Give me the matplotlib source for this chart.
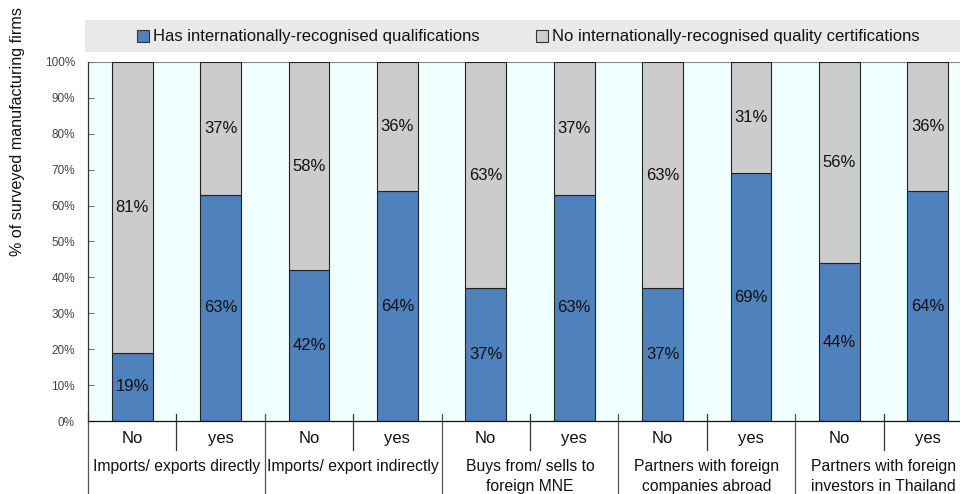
import matplotlib
matplotlib.use("Agg")
import matplotlib.pyplot as plt
from matplotlib.patches import Rectangle
from matplotlib.transforms import blended_transform_factory
import matplotlib.font_manager as fm

names = {f.name for f in fm.fontManager.ttflist}
FAM = ['Liberation Sans Narrow', 'Liberation Sans', 'DejaVu Sans']
FAM = [f for f in FAM if f in names] or ['DejaVu Sans']
plt.rcParams['font.family'] = FAM

groups = ["Imports/ exports directly", "Imports/ export indirectly",
          "Buys from/ sells to\nforeign MNE", "Partners with foreign\ncompanies abroad",
          "Partners with foreign\ninvestors in Thailand"]
subcats = ["No", "yes"] * 5
has_qual = [19, 63, 42, 64, 37, 63, 37, 69, 44, 64]
no_qual = [81, 37, 58, 36, 63, 37, 63, 31, 56, 36]
series_names = ["Has internationally-recognised qualifications",
                "No internationally-recognised quality certifications"]
yticks = [0, 10, 20, 30, 40, 50, 60, 70, 80, 90, 100]

BLUE = "#4F81BD"
GREY = "#CCCCCC"
W, H = 960, 494
fig = plt.figure(figsize=(9.6, 4.94), dpi=100)
fig.patch.set_facecolor("white")

def fx(px):
    return px / W
def fy(py):
    return 1 - py / H

left, right, top, bottom = 88, 972, 62, 421
ax = fig.add_axes([fx(left), fy(bottom), (right - left) / W, (bottom - top) / H])
ax.set_facecolor("#F2FFFF")

x = list(range(len(has_qual)))
ax.bar(x, has_qual, width=0.46, color=BLUE, edgecolor="#222222", linewidth=0.8, zorder=2)
ax.bar(x, no_qual, width=0.46, bottom=has_qual, color=GREY, edgecolor="#222222", linewidth=0.8, zorder=2)

for i in x:
    h = has_qual[i]
    n = no_qual[i]
    ax.text(i, h / 2, f"{h}%", ha="center", va="center", fontsize=12, color="#111111", zorder=3)
    ax.text(i, h + n / 2, f"{n}%", ha="center", va="center", fontsize=12, color="#111111", zorder=3)

ax.set_xlim(-0.5, 9.5)
ax.set_ylim(0, 100)
ax.set_yticks(yticks)
ax.set_yticklabels([f"{t}%" for t in yticks], fontsize=8.5, color="#444444")
ax.tick_params(axis="y", direction="in", length=4, color="#777777", pad=9.4)
ax.set_xticks([])
for s in ["top", "right"]:
    ax.spines[s].set_visible(False)
ax.spines["left"].set_color("#333333")
ax.spines["left"].set_linewidth(0.9)
ax.spines["bottom"].set_color("#111111")
ax.spines["bottom"].set_linewidth(0.9)
ax.axhline(100, color="#888888", linewidth=1.5, zorder=1)

fig.text(fx(18), fy(131), "% of surveyed manufacturing firms", rotation=90,
         ha="center", va="center", fontsize=11.6, color="#111111")

# category axis labels
tr = blended_transform_factory(ax.transData, ax.transAxes)
def ay(py):
    return (bottom - py) / (bottom - top)
for i, lab in enumerate(subcats):
    ax.text(i, ay(438), lab, transform=tr, ha="center", va="center", fontsize=12, color="#111111", clip_on=False)
for g, lab in enumerate(groups):
    for k, line in enumerate(lab.split("\n")):
        ax.text(2 * g + 0.5, ay(466 + 20 * k), line, transform=tr, ha="center", va="center",
                fontsize=11.3, color="#111111", clip_on=False)
    # inner separator
    ax.plot([2 * g + 0.5] * 2, [ay(414), ay(450)], transform=tr, color="#333333", linewidth=0.9, clip_on=False)
    # group separator
    ax.plot([2 * g - 0.5] * 2, [ay(414), ay(494)], transform=tr, color="#555555", linewidth=0.9, clip_on=False)
ax.plot([9.5] * 2, [ay(414), ay(494)], transform=tr, color="#555555", linewidth=0.9, clip_on=False)

# legend band
fig.patches.append(Rectangle((fx(85), fy(52)), fx(960) - fx(85), fy(20) - fy(52),
                             transform=fig.transFigure, facecolor="#E9E9E9", edgecolor="none", zorder=0))
sw = 12
for (px, col, name) in [(137, BLUE, series_names[0]), (536, GREY, series_names[1])]:
    fig.patches.append(Rectangle((fx(px), fy(42)), sw / W, sw / H, transform=fig.transFigure,
                                 facecolor=col, edgecolor="#333333", linewidth=0.8, zorder=1))
    fig.text(fx(px + 16), fy(36), name, ha="left", va="center", fontsize=12, color="#111111")

fig.savefig("out.png", dpi=100)
